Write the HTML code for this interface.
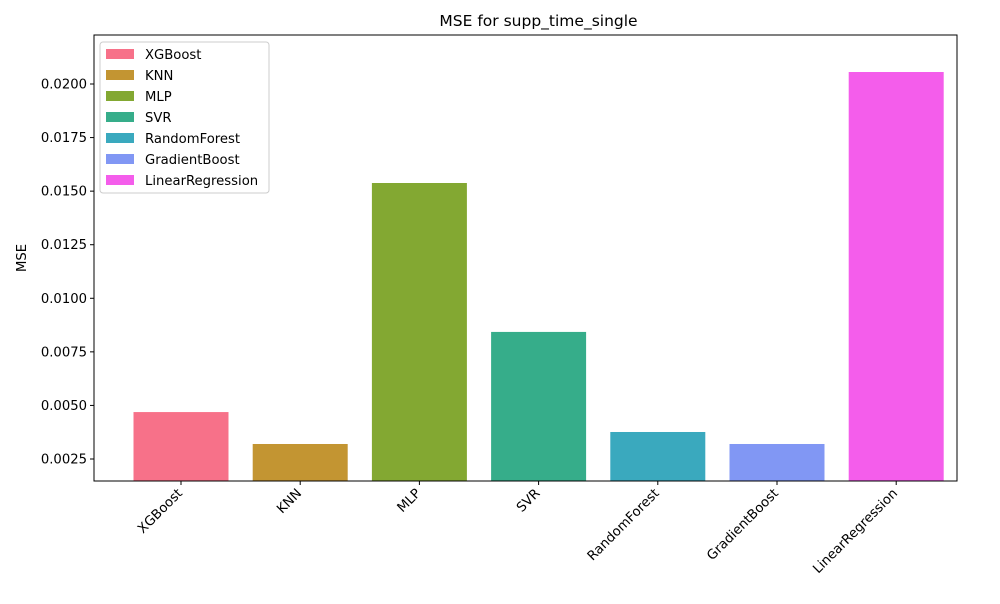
<!DOCTYPE html>
<html><head><meta charset="utf-8"><style>
body{margin:0;background:#fff;font-family:"DejaVu Sans","Liberation Sans",sans-serif}
</style></head><body>
<svg id="chart" width="1000" height="600" xmlns="http://www.w3.org/2000/svg" font-family="DejaVu Sans, Liberation Sans, sans-serif"></svg>
<script>
const categories=["XGBoost","KNN","MLP","SVR","RandomForest","GradientBoost","LinearRegression"];
const mseValues=[0.00469,0.00320,0.01538,0.00843,0.00376,0.00320,0.02056];
const barColors=["#f77189","#c39532","#83a832","#36ad8a","#3aa9be","#8197f4","#f45deb"];
const yTicks=[0.0025,0.0050,0.0075,0.0100,0.0125,0.0150,0.0175,0.0200];
const tickLabels=["0.0025","0.0050","0.0075","0.0100","0.0125","0.0150","0.0175","0.0200"];
const NS="http://www.w3.org/2000/svg";
const svg=document.getElementById('chart');
const L=94,R=957,T=35,B=481,yMin=0.001473,yMax=0.022287;
const y=v=>B-(v-yMin)/(yMax-yMin)*(B-T);
const step=119.2,x0=181;
const x=i=>x0+i*step;
function el(t,a,txt){const e=document.createElementNS(NS,t);for(const k in a)e.setAttribute(k,a[k]);if(txt!==undefined)e.textContent=txt;svg.appendChild(e);return e;}
categories.forEach((c,i)=>{
 const r=el('rect',{x:x(i)-47.5,y:y(mseValues[i]),width:95,height:B-y(mseValues[i]),fill:barColors[i]});
 
 
 const tk=el('line',{x1:x(i),x2:x(i),y1:B,y2:B+4,stroke:'#000'});
 
 
 const tx=x(i)+2,ty=B+13;
 const t=el('text',{x:tx,y:ty,'font-size':13.2,'text-anchor':'end',transform:`rotate(-45 ${tx} ${ty})`},c);
 
 
});
yTicks.forEach((v,i)=>{
 const tk=el('line',{x1:L-4,x2:L,y1:y(v),y2:y(v),stroke:'#000'});
 
 
 const t=el('text',{x:L-7,y:y(v)+4.5,'font-size':13.2,'text-anchor':'end'},tickLabels[i]);
 
 
});
const fr=el('rect',{x:L,y:T,width:R-L,height:B-T,fill:'none',stroke:'#000','stroke-width':1});


const ti=el('text',{x:(L+R)/2+13,y:26,'font-size':15.5,'text-anchor':'middle'},'MSE for supp_time_single');


const yl=el('text',{x:26,y:258,'font-size':13.2,'text-anchor':'middle',transform:'rotate(-90 26 258)'},'MSE');


const lb=el('rect',{x:100,y:42,width:169,height:151,rx:3,fill:'#fff','fill-opacity':0.8,stroke:'#ccc'});


categories.forEach((c,i)=>{
 const yy=54+i*21;
 const s=el('rect',{x:106,y:yy-5,width:28,height:10,fill:barColors[i]});
 
 
 const t=el('text',{x:145,y:yy+5,'font-size':13.2},c);
 
 
});
</script>
</body></html>
